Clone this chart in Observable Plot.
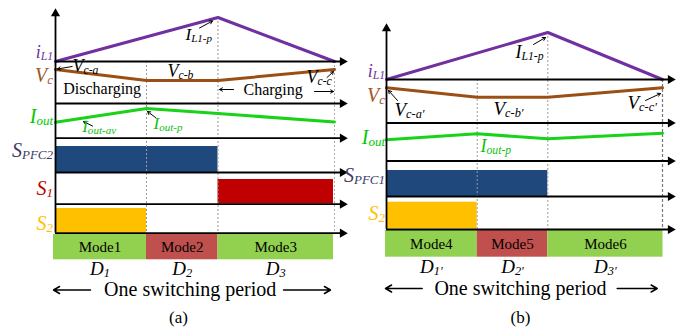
<!DOCTYPE html>
<html>
<head>
<meta charset="utf-8">
<script src="https://cdn.jsdelivr.net/npm/d3@7"></script>
<script src="https://cdn.jsdelivr.net/npm/@observablehq/plot@0.6"></script>
<style>
  html, body { margin: 0; padding: 0; background: #fff; }
  #chart { width: 700px; height: 333px; }
  #chart svg text { font-family: "Liberation Serif", "Times New Roman", serif; }
</style>
</head>
<body>
<div id="chart"></div>
<script>
// ---------- data (figure units) ----------
// Panel (a)
const modeNamesA = ["Mode1", "Mode2", "Mode3"];
const dLabelsA = ["D_1", "D_2", "D_3"];
const boundsA = [55, 146, 217.5, 334];        // t0, end D1, end D2, end D3
const modeEdgesA = [53, 146, 217.5, 333];
const iL1A = [61, 17, 61];                    // at t0, end D2, end D3
const vcA = [69, 80, 80, 69];                 // at boundsA
const ioutA = [121.7, 108, 113, 121.5];       // at boundsA
const rowAxesA = [61, 103, 137.7, 172, 203.7, 232.7];
const sigNamesA = ["i_L1", "V_c", "I_out", "S_PFC2", "S_1", "S_2"];
const sigYA = [52, 75, 116, 150, 188, 223];
const switchesA = [ // [on-start mode idx, on-end mode idx, top, bottom]
  [0, 2, 146, 172],
  [2, 3, 179, 203.5],
  [0, 1, 208, 232.5]
];
const annA = [
  ["I_L1-p", 185, 34.5, 17],
  ["V_c-a", 72, 66, 18],
  ["V_c-b", 167, 70.5, 18],
  ["V_c-c", 306, 77, 18]
];
const annGreenA = [
  ["I_out-av", 81.7, 126.5, 17],
  ["I_out-p", 153, 123, 17]
];
const wordsA = [["Discharging", 62.7, 88], ["Charging", 243, 89]];
const arrowsA = [
  [71.7, 66, 57, 68.5], [199, 27.5, 212, 20.5], [233, 89, 219, 89],
  [314, 91, 333, 91], [326.5, 77, 333, 71], [92, 125.5, 83, 121], [155, 117, 147, 111]
];

// Panel (b)
const modeNamesB = ["Mode4", "Mode5", "Mode6"];
const dLabelsB = ["D_1′", "D_2′", "D_3′"];
const boundsB = [386, 476.7, 547.3, 662];
const modeEdgesB = [385, 476.7, 547.3, 662.5];
const iL1B = [79, 32, 79];
const vcB = [87.3, 96.7, 96.7, 87.3];
const ioutB = [139.3, 133.3, 138.3, 132.7];
const rowAxesB = [79, 122.5, 160.5, 196, 229];
const sigNamesB = ["i_L1", "V_c", "I_out", "S_PFC1", "S_2"];
const sigYB = [71, 95, 137, 175, 213];
const switchesB = [
  [0, 2, 170, 196],
  [0, 1, 201.7, 228.5]
];
const annB = [
  ["I_L1-p", 515, 51.5, 18],
  ["V_c-a′", 394, 109, 19],
  ["V_c-b′", 493, 108, 19],
  ["V_c-c′", 627, 102, 19]
];
const annGreenB = [["I_out-p", 480, 146, 18]];
const arrowsB = [[533, 44, 545, 37], [397, 100, 388, 90], [645, 100, 660, 93]];

// layout bits
const axisTipX = [347, 675];
const axisTopY = [8, 23];
const modeBoxY = [[234, 259.3], [230, 256.7]];
const dLabelY = [268, 266];
const periodY = [289.5, 288];
const periodText = "One switching period";
const periodCenter = [189.7, 520];
const periodArrows = [[90, 53], [283, 330], [421.7, 385], [616.7, 656.7]];
const panelLabels = ["(a)", "(b)"];
const dashTopA = [61, 17, 61];
const dashTopB = [79, 32, 79];

// colours
const C = {
  iL1: "#7030A0", vc: "#A0561F", iout: "#00C800", spfc: "#403A65",
  s1: "#C00000", s2: "#FFC000", blue: "#1F497D", red: "#C00000",
  modeG: "#92D050", modeR: "#C0504D"
};
const FONT = "Liberation Serif";

// ---------- build tables ----------
function panel(bounds, modeEdges, iL1, vc, iout, switches, modeNames, dLabels, k) {
  const t3 = [bounds[0], bounds[2], bounds[3]];
  return {
    iL1: t3.map((t, i) => ({t, v: iL1[i]})),
    vc: bounds.map((t, i) => ({t, v: vc[i]})),
    iout: bounds.map((t, i) => ({t, v: iout[i]})),
    sw: switches.map(([a, b, y1, y2], i) => ({x1: bounds[a], x2: bounds[b] - (b === 3 ? 1 : 0), y1, y2, i})),
    modes: modeNames.map((m, i) => ({m, x1: modeEdges[i], x2: modeEdges[i + 1], xc: (modeEdges[i] + modeEdges[i + 1]) / 2,
      y1: modeBoxY[k][0], y2: modeBoxY[k][1], fill: i === 1 ? C.modeR : C.modeG, d: dLabels[i]})),
    dashes: bounds.slice(1).map((t, i) => ({t, y1: (k ? dashTopB : dashTopA)[i], y2: modeBoxY[k][0], last: i === 2}))
  };
}
const A = panel(boundsA, modeEdgesA, iL1A, vcA, ioutA, switchesA, modeNamesA, dLabelsA, 0);
const B = panel(boundsB, modeEdgesB, iL1B, vcB, ioutB, switchesB, modeNamesB, dLabelsB, 1);
const swColorsA = [C.blue, C.red, C.s2];
const swColorsB = [C.blue, C.s2];
const sigColA = [C.iL1, C.vc, C.iout, C.spfc, C.s1, C.s2];
const sigColB = [C.iL1, C.vc, C.iout, C.spfc, C.s2];

const axesH = [
  ...rowAxesA.map(y => ({y, x1: boundsA[0], x2: axisTipX[0]})),
  ...rowAxesB.map(y => ({y, x1: boundsB[0], x2: axisTipX[1]}))
];
const axesV = [
  {x: boundsA[0], y1: rowAxesA[rowAxesA.length - 1], y2: axisTopY[0]},
  {x: boundsB[0], y1: rowAxesB[rowAxesB.length - 1], y2: axisTopY[1]}
];
const sigLabels = [
  ...sigNamesA.map((s, i) => ({s, x: 52.5, y: sigYA[i], c: sigColA[i], fs: i === 0 ? 18 : 20})),
  ...sigNamesB.map((s, i) => ({s, x: 384.5, y: sigYB[i], c: sigColB[i], fs: i === 0 ? 18 : 20}))
];
const ann = [...annA, ...annB].map(([s, x, y, fs]) => ({s, x, y, fs}));
const annG = [...annGreenA, ...annGreenB].map(([s, x, y, fs]) => ({s, x, y, fs}));
const arrows = [...arrowsA, ...arrowsB].map(([x1, y1, x2, y2]) => ({x1, y1, x2, y2}));
const pArrows = periodArrows.map(([x1, x2], i) => ({x1, x2, y: periodY[i < 2 ? 0 : 1]}));
const periods = periodCenter.map((x, i) => ({x, y: periodY[i], s: periodText}));
const pLabels = panelLabels.map((s, i) => ({s, x: periodCenter[i] - (i ? 0 : 11.7), y: 317}));

const lineOpts = {x: "t", y: "v", strokeWidth: 3, strokeLinejoin: "miter"};
const T = {fontFamily: FONT};

const chart = Plot.plot({
  width: 700, height: 333,
  margin: 0,
  x: {domain: [0, 700], range: [0, 700], axis: null},
  y: {domain: [0, 333], range: [0, 333], axis: null},
  style: {background: "#fff", fontFamily: FONT},
  marks: [
    // switch bars
    Plot.rect(A.sw, {x1: "x1", x2: "x2", y1: "y1", y2: "y2", fill: d => swColorsA[d.i]}),
    Plot.rect(B.sw, {x1: "x1", x2: "x2", y1: "y1", y2: "y2", fill: d => swColorsB[d.i]}),
    // mode boxes
    Plot.rect([...A.modes, ...B.modes], {x1: "x1", x2: "x2", y1: "y1", y2: "y2", fill: "fill"}),
    // dashed guides
    Plot.ruleX([...A.dashes, ...B.dashes].filter(d => !d.last), {x: "t", y1: "y1", y2: "y2", stroke: "#9a9a9a", strokeWidth: 1, strokeDasharray: "2,2"}),
    Plot.ruleX([A.dashes[2]], {x: "t", y1: "y1", y2: d => d.y2 - 1, stroke: "#aaaaaa", strokeWidth: 1, strokeDasharray: "2,2"}),
    Plot.ruleX([B.dashes[2]], {x: "t", y1: "y1", y2: "y2", stroke: "#777", strokeWidth: 1.2, strokeDasharray: "3,2"}),
    // waveforms
    Plot.line(A.iL1, {...lineOpts, stroke: C.iL1}),
    Plot.line(B.iL1, {...lineOpts, stroke: C.iL1}),
    Plot.line(A.vc, {...lineOpts, stroke: "#9C4F14"}),
    Plot.line(B.vc, {...lineOpts, stroke: "#9C4F14"}),
    Plot.line(A.iout, {...lineOpts, stroke: "#19D219"}),
    Plot.line(B.iout, {...lineOpts, stroke: "#19D219"}),
    // axes
    Plot.ruleY(axesH, {y: "y", x1: "x1", x2: d => d.x2 - 6, stroke: "#000", strokeWidth: 1.8}),
    Plot.ruleX(axesV, {x: "x", y1: "y1", y2: d => d.y2 + 6, stroke: "#000", strokeWidth: 1.8}),
    Plot.dot(axesH, {x: "x2", y: "y", dx: -5, symbol: "triangle", rotate: 90, r: 3.4, fill: "#000", stroke: null}),
    Plot.dot(axesV, {x: "x", y: "y2", dy: 5, symbol: "triangle", r: 3.4, fill: "#000", stroke: null}),
    // annotation arrows
    Plot.arrow(arrows, {x1: "x1", y1: "y1", x2: "x2", y2: "y2", stroke: "#000", strokeWidth: 1, headLength: 5}),
    Plot.arrow(pArrows, {x1: "x1", y1: "y", x2: "x2", y2: "y", stroke: "#000", strokeWidth: 1.5, headLength: 7}),
    // texts
    Plot.text(sigLabels, {...T, x: "x", y: "y", text: "s", fill: "c", fontSize: "fs", textAnchor: "end", fontStyle: "italic"}),
    Plot.text(ann, {...T, x: "x", y: "y", text: "s", fontSize: "fs", textAnchor: "start", fontStyle: "italic", fill: "#000"}),
    Plot.text(annG, {...T, x: "x", y: "y", text: "s", fontSize: "fs", textAnchor: "start", fontStyle: "italic", fill: "#10C010"}),
    Plot.text(wordsA, {...T, x: d => d[1], y: d => d[2], text: d => d[0], fontSize: 16, textAnchor: "start", fill: "#000"}),
    Plot.text([...A.modes, ...B.modes], {...T, x: "xc", y: d => (d.y1 + d.y2) / 2, text: "m", fontSize: 15, fill: "#000"}),
    Plot.text(A.modes, {...T, x: "xc", y: dLabelY[0], text: "d", fontSize: 19, fontStyle: "italic", fill: "#000"}),
    Plot.text(B.modes, {...T, x: "xc", y: dLabelY[1], text: "d", fontSize: 19, fontStyle: "italic", fill: "#000"}),
    Plot.text(periods, {...T, x: "x", y: "y", text: "s", fontSize: 20, fill: "#000"}),
    Plot.text(pLabels, {...T, x: "x", y: "y", text: "s", fontSize: 17, fill: "#000"})
  ]
});

// subscripts: "base_sub" -> base + smaller lowered tspan
d3.select(chart).selectAll("text").each(function () {
  const s = this.textContent;
  const i = s.indexOf("_");
  if (i < 0) return;
  const el = d3.select(this);
  el.text(null);
  el.append("tspan").text(s.slice(0, i));
  el.append("tspan").attr("font-size", "65%").attr("dy", "0.18em").text(s.slice(i + 1));
});

document.getElementById("chart").appendChild(chart);
</script>
</body>
</html>
